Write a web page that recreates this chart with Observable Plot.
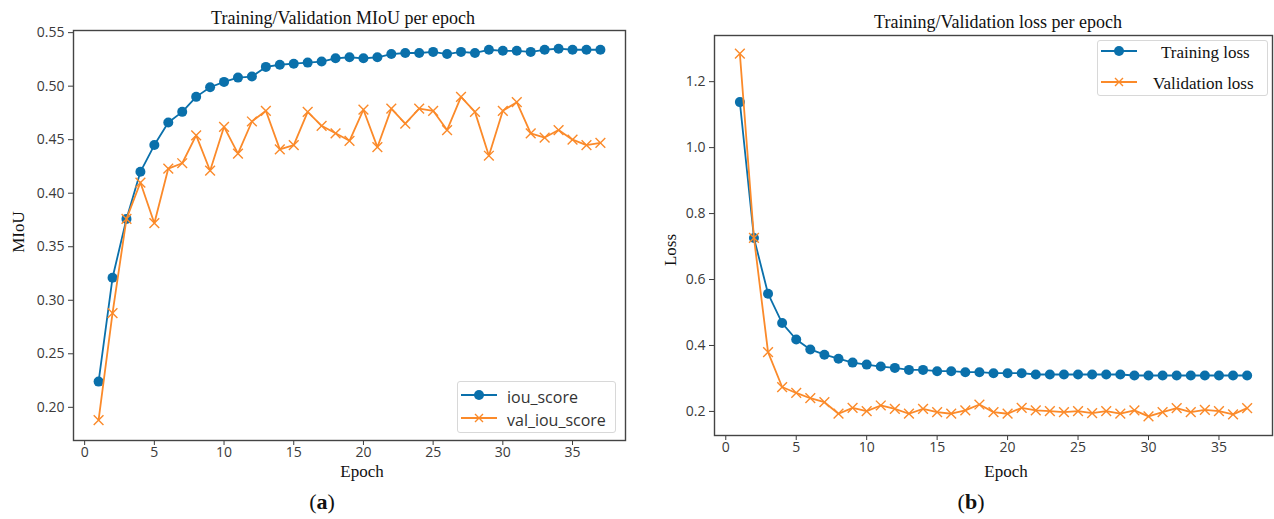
<!DOCTYPE html>
<html>
<head>
<meta charset="utf-8">
<script src="https://cdn.jsdelivr.net/npm/d3@7"></script>
<script src="https://cdn.jsdelivr.net/npm/@observablehq/plot@0.6"></script>
<style>
  body { margin: 0; background: #fff; }
  #wrap { position: relative; width: 1274px; height: 519px; overflow: hidden; background: #fff; }
  .abs { position: absolute; }
  .serif { font-family: "Liberation Serif", "DejaVu Serif", serif; color: #111; white-space: nowrap; }
  .title { font-size: 18px; transform: translate(-50%, -50%); }
  .xlab { font-size: 17px; transform: translate(-50%, -50%); }
  .ylab { font-size: 17px; transform: translate(-50%, -50%) rotate(-90deg); }
  .cap { font-size: 22px; transform: translate(-50%, -50%); }
  .legend { border: 1px solid #d8d8d8; border-radius: 3px; background: rgba(255,255,255,0.9); }
  .item { position: absolute; display: flex; align-items: center; }
</style>
</head>
<body>
<div id="wrap"></div>
<script>
// ---- data ----
const epochs = d3.range(1, 38);
const iouScore = [0.224, 0.321, 0.376, 0.420, 0.445, 0.466, 0.476, 0.490, 0.499, 0.504,
  0.508, 0.509, 0.518, 0.520, 0.521, 0.522, 0.523, 0.526, 0.527, 0.526,
  0.527, 0.530, 0.531, 0.531, 0.532, 0.530, 0.532, 0.531, 0.534, 0.533,
  0.533, 0.532, 0.534, 0.535, 0.534, 0.534, 0.534];
const valIouScore = [0.188, 0.288, 0.376, 0.410, 0.372, 0.423, 0.428, 0.454, 0.421, 0.462,
  0.437, 0.467, 0.477, 0.441, 0.445, 0.476, 0.463, 0.456, 0.449, 0.478,
  0.443, 0.479, 0.465, 0.479, 0.477, 0.459, 0.490, 0.476, 0.435, 0.477,
  0.485, 0.456, 0.452, 0.459, 0.450, 0.445, 0.447];
const trainLoss = [1.138, 0.726, 0.557, 0.468, 0.418, 0.388, 0.372, 0.360, 0.348, 0.342,
  0.336, 0.332, 0.326, 0.326, 0.322, 0.322, 0.319, 0.319, 0.316, 0.316,
  0.316, 0.312, 0.312, 0.312, 0.312, 0.312, 0.312, 0.312, 0.309, 0.309,
  0.309, 0.309, 0.309, 0.309, 0.309, 0.309, 0.309];
const valLoss = [1.285, 0.726, 0.380, 0.274, 0.256, 0.240, 0.228, 0.193, 0.211, 0.201,
  0.218, 0.208, 0.193, 0.208, 0.198, 0.193, 0.203, 0.221, 0.198, 0.193,
  0.211, 0.203, 0.201, 0.198, 0.201, 0.195, 0.201, 0.193, 0.203, 0.185,
  0.198, 0.210, 0.198, 0.205, 0.201, 0.191, 0.210];
const xTicks = [0, 5, 10, 15, 20, 25, 30, 35];
const miouTicks = [0.20, 0.25, 0.30, 0.35, 0.40, 0.45, 0.50, 0.55];
const lossTicks = [0.2, 0.4, 0.6, 0.8, 1.0, 1.2];
const titles = ["Training/Validation MIoU per epoch", "Training/Validation loss per epoch"];
const legendA = ["iou_score", "val_iou_score"];
const legendB = ["Training loss", "Validation loss"];

const BLUE = "#0a70ab";
const ORANGE = "#fb8a2a";

const wrap = document.getElementById("wrap");
function addDiv(cls, html, x, y) {
  const d = document.createElement("div");
  d.className = "abs " + cls;
  d.innerHTML = html;
  d.style.left = x + "px";
  d.style.top = y + "px";
  wrap.appendChild(d);
  return d;
}

function chart(train, val, yDomain, yTicks, fmt, m) {
  const tr = epochs.map((e, i) => ({e, v: train[i]}));
  const va = epochs.map((e, i) => ({e, v: val[i]}));
  const p = Plot.plot({
    width: m.width, height: m.height,
    marginLeft: m.left, marginRight: m.right, marginTop: m.top, marginBottom: m.bottom,
    style: {fontFamily: "'Open Sans', 'DejaVu Sans', sans-serif", fontSize: "14px", color: "#3a3a3a", background: "transparent"},
    x: {domain: [-0.8, 38.8]},
    y: {domain: yDomain},
    marks: [
      Plot.line(tr, {x: "e", y: "v", stroke: BLUE, strokeWidth: 1.8}),
      Plot.dot(tr, {x: "e", y: "v", r: 5, fill: BLUE, stroke: null}),
      Plot.line(va, {x: "e", y: "v", stroke: ORANGE, strokeWidth: 1.8}),
      Plot.dot(va, {x: "e", y: "v", symbol: "times", r: 4.5, stroke: ORANGE, strokeWidth: 1.4}),
      Plot.axisX({ticks: xTicks, tickSize: 5, tickPadding: 2, label: null}),
      Plot.axisY({ticks: yTicks, tickFormat: d3.format(fmt), tickSize: 5, tickPadding: 4, label: null}),
      Plot.frame({stroke: "#444", strokeWidth: 1.4})
    ]
  });
  p.style.position = "absolute";
  p.style.left = m.x + "px";
  p.style.top = "0px";
  wrap.appendChild(p);
}

chart(iouScore, valIouScore, [0.169, 0.552], miouTicks, ".2f",
  {x: 0, width: 640, height: 480, left: 73, right: 15, top: 30, bottom: 40});
chart(trainLoss, valLoss, [0.127, 1.340], lossTicks, ".1f",
  {x: 640, width: 634, height: 480, left: 74, right: 2, top: 35, bottom: 45});

// titles and labels
addDiv("serif title", titles[0], 343, 18);
addDiv("serif title", titles[1], 998, 22);
addDiv("serif xlab", "Epoch", 362, 472);
addDiv("serif xlab", "Epoch", 1006, 472);
addDiv("serif ylab", "MIoU", 19, 232);
addDiv("serif ylab", "Loss", 671, 250);
addDiv("serif cap", "(<b>a</b>)", 322, 502);
addDiv("serif cap", "(<b>b</b>)", 971, 502);

// legends
function swatch(kind) {
  const mk = kind === "dot"
    ? `<circle cx="18" cy="8" r="5" fill="${BLUE}"/>`
    : `<path d="M14,4L22,12M22,4L14,12" stroke="${ORANGE}" stroke-width="1.4"/>`;
  const col = kind === "dot" ? BLUE : ORANGE;
  return `<svg width="36" height="16"><line x1="0" y1="8" x2="36" y2="8" stroke="${col}" stroke-width="1.8"/>${mk}</svg>`;
}
const la = addDiv("legend", "", 457, 381);
la.style.width = "157px"; la.style.height = "50px";
la.innerHTML = `
  <div class="item" style="left:3px;top:4px;"><span>${swatch("dot")}</span><span style="margin-left:10px;font:16px 'Open Sans','DejaVu Sans',sans-serif;color:#333">${legendA[0]}</span></div>
  <div class="item" style="left:3px;top:27px;"><span>${swatch("times")}</span><span style="margin-left:10px;font:16px 'Open Sans','DejaVu Sans',sans-serif;color:#333">${legendA[1]}</span></div>`;
const lb = addDiv("legend", "", 1097, 40);
lb.style.width = "169px"; lb.style.height = "54px";
lb.innerHTML = `
  <div class="item" style="left:3px;top:2px;"><span>${swatch("dot")}</span><span class="serif" style="margin-left:24px;font-size:17px">${legendB[0]}</span></div>
  <div class="item" style="left:3px;top:33px;"><span>${swatch("times")}</span><span class="serif" style="margin-left:16px;font-size:17px">${legendB[1]}</span></div>`;
</script>
</body>
</html>
